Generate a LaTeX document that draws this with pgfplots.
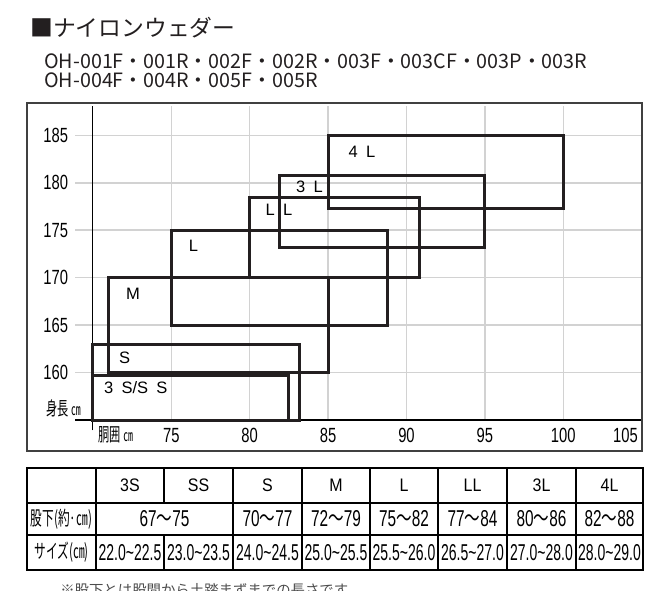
\documentclass[border=0pt]{standalone}
\usepackage{pgfplots}
\pgfplotsset{compat=1.18}
\usepackage{fontspec}
\setmainfont{Liberation Sans}
\newfontfamily\cjk{Noto Sans CJK JP}
\newfontfamily\cjkn[FakeStretch=0.68]{Noto Sans CJK JP}
\newfontfamily\cjkt[FakeStretch=0.6]{Noto Sans CJK JP}
\newfontfamily\narrow[FakeStretch=0.72]{Liberation Sans}
\newfontfamily\narrowh[FakeStretch=0.88]{Liberation Sans}
\newfontfamily\narrowt[FakeStretch=0.67]{Liberation Sans}
\newfontfamily\narrowu[FakeStretch=0.61]{Liberation Sans}
\newcommand\fs[1]{\fontsize{#1}{#1}\selectfont}
\definecolor{ink}{HTML}{231F20}
\definecolor{gridc}{HTML}{D2D2D2}
% row 2 ranges (wide wave dash), row 3 ranges (narrow tilde)
\newcommand\rngA[2]{{\narrowt\fs{17.2}#1}{\cjkn\fs{17.2}～}{\narrowt\fs{17.2}#2}}
\newcommand\rngB[2]{{\narrowu\fs{17.2}#1\textasciitilde#2}}
\newcommand\lbl{\fontsize{12.4}{12.4}\selectfont}
\newcommand\gap{\hspace{0.5em}}

\begin{document}
\begin{tikzpicture}
\path[use as bounding box] (0pt,0pt) rectangle (492.75pt,-443.25pt);

\begin{axis}[
  at={(56.25pt,-315pt)}, anchor=south west,
  scale only axis, width=425.25pt, height=235.5pt,
  xmin=68.86, xmax=105.02, ymin=155, ymax=188.09,
  clip=false,
  axis line style={draw=none},
  major tick length=0pt,
  xtick={75,80,85,90,95,100}, xticklabels={75,80,85,90,95,100},
  ytick={160,165,170,175,180,185}, yticklabels={160,165,170,175,180,185},
  xticklabel style={font=\narrow\fs{15.4}, anchor=north, inner sep=0pt, yshift=-6pt},
  yticklabel style={font=\narrow\fs{15.4}, anchor=east, inner sep=0pt, xshift=-5pt},
  grid=major, grid style={draw=gridc, line width=1.1pt},
  rect/.style={ink, line width=2.25pt, line join=miter, mark=none},
]
  % axis lines
  \draw[black, line width=0.9pt] (axis cs:70,153.9) -- (axis cs:70,188.09);
  \draw[black, line width=1.6pt] (axis cs:68.86,155) -- (axis cs:105.02,155);
  % size ranges: waist (x) by height (y)
  \addplot[rect] coordinates {(70,155) (82.5,155) (82.5,159.7) (70,159.7)} -- cycle;
  \addplot[rect] coordinates {(70,155) (83.2,155) (83.2,163) (70,163)} -- cycle;
  \addplot[rect] coordinates {(71,160) (85,160) (85,170) (71,170)} -- cycle;
  \addplot[rect] coordinates {(75,165) (88.8,165) (88.8,175) (75,175)} -- cycle;
  \addplot[rect] coordinates {(80,170) (90.8,170) (90.8,178.5) (80,178.5)} -- cycle;
  \addplot[rect] coordinates {(81.9,173.2) (95,173.2) (95,180.8) (81.9,180.8)} -- cycle;
  \addplot[rect] coordinates {(85,177.3) (100,177.3) (100,185) (85,185)} -- cycle;
  \node[anchor=west, inner sep=0pt, font=\lbl] at (axis cs:70.7,158.4) {3\gap S/S\gap S};
  \node[anchor=west, inner sep=0pt, font=\lbl] at (axis cs:71.66,161.6) {S};
  \node[anchor=west, inner sep=0pt, font=\lbl] at (axis cs:72.1,168.3) {M};
  \node[anchor=west, inner sep=0pt, font=\lbl] at (axis cs:76.1,173.4) {L};
  \node[anchor=west, inner sep=0pt, font=\lbl] at (axis cs:81.0,177.2) {L\gap L};
  \node[anchor=west, inner sep=0pt, font=\lbl] at (axis cs:82.95,179.6) {3\gap L};
  \node[anchor=west, inner sep=0pt, font=\lbl] at (axis cs:86.3,183.3) {4\gap L};
  \node[anchor=north east, inner sep=0pt, font=\narrow\fs{15.4}] at (axis cs:105.02,155) [xshift=-3pt, yshift=-6pt] {105};
\end{axis}

\begin{scope}[x=0.75pt,y=-0.75pt]
  % chart frame
  \draw[black!75, line width=1pt] (27,103) rectangle (642,451);
  \node[anchor=base east, inner sep=0pt] at (81,416) {{\cjkt\fs{14}身長}\hspace{2pt}{\cjkt\fs{12}㎝}};
  \node[anchor=base west, inner sep=0pt] at (98,441) {{\cjkt\fs{14}胴囲}\hspace{2pt}{\cjkt\fs{12}㎝}};
  % headings
  \node[anchor=base west, inner sep=0pt, ink] at (30,37) {\cjk\fs{17.1}■ナイロンウェダー};
  \node[anchor=base west, inner sep=0pt, ink] at (44,68.5) {\cjk\fs{14.8}OH-001F・001R・002F・002R・003F・003CF・003P・003R};
  \node[anchor=base west, inner sep=0pt, ink] at (44,87.5) {\cjk\fs{14.8}OH-004F・004R・005F・005R};
  % table
  \draw[line width=2.2pt] (27,468) rectangle (643,570);
  \draw[line width=2pt] (27,503) -- (643,503);
  \draw[line width=1pt] (27,535) -- (643,535);
  \foreach \x in {96,233,302,370,438,507,576} \draw[line width=1.8pt] (\x,468) -- (\x,570);
  \draw[line width=1.8pt] (164,468) -- (164,503);
  \draw[line width=1.8pt] (164,535) -- (164,570);
  \foreach \c/\t in {130/3S,198.5/SS,267.5/S,336/M,404/L,472.5/LL,541.5/3L,609.5/4L}
    \node[anchor=base, inner sep=0pt, font=\narrowh\fs{13.6}] at (\c,492) {\t};
  \node[anchor=base, inner sep=0pt] at (61.5,525) {\cjkt\fs{14.6}股下(約·㎝)};
  \node[anchor=base, inner sep=0pt] at (164.5,527) {\rngA{67}{75}};
  \foreach \c/\a/\b in {267.5/70/77,336/72/79,404/75/82,472.5/77/84,541.5/80/86,609.5/82/88}
    \node[anchor=base, inner sep=0pt] at (\c,527) {\rngA{\a}{\b}};
  \node[anchor=base, inner sep=0pt] at (61.5,558) {\cjkt\fs{14.6}サイズ(㎝)};
  \foreach \c/\a/\b in {130/22.0/22.5,198.5/23.0/23.5,267.5/24.0/24.5,336/25.0/25.5,404/25.5/26.0,472.5/26.5/27.0,541.5/27.0/28.0,609.5/28.0/29.0}
    \node[anchor=base, inner sep=0pt] at (\c,560) {\rngB{\a}{\b}};
  % footnote, cut by the lower edge as in the source
  \node[anchor=base west, inner sep=0pt, black!70] at (60,595) {\cjk\fs{10.8}※股下とは股間から土踏まずまでの長さです};
\end{scope}
\end{tikzpicture}
\end{document}
